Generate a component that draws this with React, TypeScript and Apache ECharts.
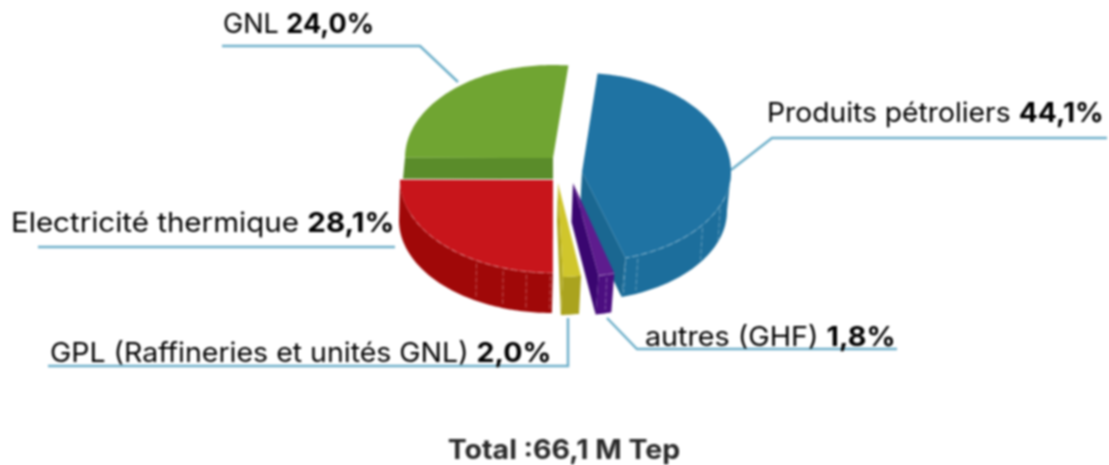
import React, { useEffect, useRef } from "react";
import * as echarts from "echarts";

const categories = ["Produits pétroliers", "autres (GHF)", "GPL (Raffineries et unités GNL)", "Electricité thermique", "GNL"];
const shares = [44.1, 1.8, 2.0, 28.1, 24.0];
const totalLabel = "Total :66,1 M Tep";

const foreshorten = [0.989, 0.95, 0.97, 0.89, 1.11];
const gapAfter = [1, 1, 1.9, 0, 0];
const firstAngle = 6;

const sliceStyles = [
  { cx: 582, cy: 172, rx: 149, ryUp: 99, ryDown: 90, depth: 39, dx: -4, top: "#1f73a3", wall: "#1c6e9c", cut: "#1a6791", ticks: [112, 126, 158, 163] },
  { cx: 573, cy: 183, rx: 150, ryUp: 94, ryDown: 94, depth: 39, dx: -3, top: "#5e1c8e", wall: "#4c0e80", cut: "#3a0670", ticks: [167] },
  { cx: 558, cy: 183, rx: 150, ryUp: 94, ryDown: 94, depth: 38, dx: -2, top: "#d0c62c", wall: "#aaa31e", cut: "#b0a920", ticks: [] },
  { cx: 553, cy: 180, rx: 153, ryUp: 93, ryDown: 93, depth: 40, dx: -1, top: "#c8151b", wall: "#a00808", cut: "#a00808", ticks: [181, 190, 199, 210] },
  { cx: 553, cy: 158, rx: 148, ryUp: 93, ryDown: 93, depth: 21, dx: -2, top: "#70a532", wall: "#5a8c2a", cut: "#5a8c2a", ticks: [] },
];

const labelStyles = [
  { x: 767, y: 112, scaleX: 1.047 },
  { x: 645, y: 336, scaleX: 1.064 },
  { x: 50, y: 352, scaleX: 1.055 },
  { x: 11, y: 222, scaleX: 1.094 },
  { x: 223, y: 23, scaleX: 1.0 },
];

const leaderLines = [
  [[1107, 138], [772, 138], [731, 170]],
  [[897, 349], [637, 349], [607, 318]],
  [[48, 366], [568, 366], [568, 318]],
  [[38, 247], [395, 247]],
  [[222, 46], [420, 46], [458, 82]],
];

const rad = (d: number) => (d * Math.PI) / 180;

function angleRanges(values: number[]) {
  let t = firstAngle;
  return values.map((v, i) => {
    const start = t;
    const end = t + v * 3.6 * foreshorten[i];
    t = end + gapAfter[i];
    return [start, end];
  });
}

function renderSlice(params: any, api: any) {
  const i = params.dataIndex;
  const s = sliceStyles[i];
  const [a, b] = angleRanges(shares)[i];
  const pt = (t: number, down = false) => {
    const c = Math.cos(rad(t));
    return [
      s.cx + s.rx * Math.sin(rad(t)) + (down ? s.dx : 0),
      s.cy - (c > 0 ? s.ryUp : s.ryDown) * c + (down ? s.depth : 0),
    ];
  };
  const arc = (from: number, to: number, down = false) => {
    const out: number[][] = [];
    const n = Math.max(2, Math.ceil(Math.abs(to - from)));
    for (let k = 0; k <= n; k++) out.push(pt(from + ((to - from) * k) / n, down));
    return out;
  };
  const children: any[] = [];
  const wa = Math.max(a, 90);
  const wb = Math.min(b, 270);
  if (wb > wa) {
    children.push({
      type: "polygon",
      shape: { points: [...arc(wa, wb), ...arc(wb, wa, true)] },
      style: { fill: s.wall },
    });
  }
  if (a < 180 && i !== 3) {
    const outer = pt(b);
    const outerDown = pt(b, true);
    children.push({
      type: "polygon",
      shape: { points: [[s.cx, s.cy], outer, outerDown, [s.cx + s.dx / 2, s.cy + s.depth]] },
      style: { fill: s.cut },
    });
  }
  if (i === 4) {
    const outer = pt(a);
    const flat = pt(a, true);
    children.push({
      type: "polygon",
      shape: { points: [[s.cx, s.cy], outer, flat, [s.cx, s.cy + s.depth]] },
      style: { fill: s.cut },
    });
  }
  children.push({
    type: "polygon",
    shape: { points: [[s.cx, s.cy], ...arc(a, b)] },
    style: { fill: s.top },
  });
  if (s.ticks.length) {
    children.push({
      type: "polyline",
      shape: { points: arc(Math.max(wa, s.ticks[0] - 6), wb - (i === 3 ? 20 : 0)) },
      style: { fill: "none", stroke: "rgba(255,255,255,0.4)", lineWidth: 1, lineDash: [6, 3] },
    });
    s.ticks.forEach((t) => {
      const p = pt(t);
      children.push({
        type: "line",
        shape: { x1: p[0], y1: p[1] + 3, x2: p[0] + s.dx / 2, y2: p[1] + s.depth - 4 },
        style: { stroke: "rgba(255,255,255,0.32)", lineWidth: 1, lineDash: [5, 2] },
      });
    });
  }
  return { type: "group", children };
}

export default function App() {
  const ref = useRef<HTMLDivElement>(null);
  useEffect(() => {
    const chart = echarts.init(ref.current!, undefined, { renderer: "svg" });
    const labels = categories.map((c, i) => ({
      type: "text",
      x: labelStyles[i].x,
      y: labelStyles[i].y,
      scaleX: labelStyles[i].scaleX,
      style: {
        text: `{a|${c} }{b|${shares[i].toFixed(1).replace(".", ",")}%}`,
        verticalAlign: "middle",
        rich: {
          a: { fontFamily: "Inter", fontSize: 27, color: "#666666" },
          b: { fontFamily: "Inter", fontSize: 27, fontWeight: "bold", color: "#3a3a3a" },
        },
      },
    }));
    const lines = leaderLines.map((pts) => ({
      type: "polyline",
      shape: { points: pts },
      style: { fill: "none", stroke: "#6fb0ca", lineWidth: 2.5 },
    }));
    chart.setOption({
      animation: false,
      backgroundColor: "#ffffff",
      series: [
        {
          type: "custom",
          coordinateSystem: "none",
          silent: true,
          data: categories.map((name, i) => ({ name, value: [shares[i]] })),
          renderItem: renderSlice,
        },
      ],
      graphic: [
        ...lines,
        ...labels,
        {
          type: "text",
          x: 564,
          y: 449,
          scaleX: 1.055,
          style: {
            text: totalLabel,
            textAlign: "center",
            verticalAlign: "middle",
            fontFamily: "Inter",
            fontSize: 27,
            fontWeight: "bold",
            fill: "#2a2a2a",
          },
        },
      ],
    });
    return () => chart.dispose();
  }, []);
  return (
    <div
      ref={ref}
      style={{ position: "absolute", left: 0, top: 0, width: 1109, height: 465, filter: "blur(0.8px)" }}
    />
  );
}
